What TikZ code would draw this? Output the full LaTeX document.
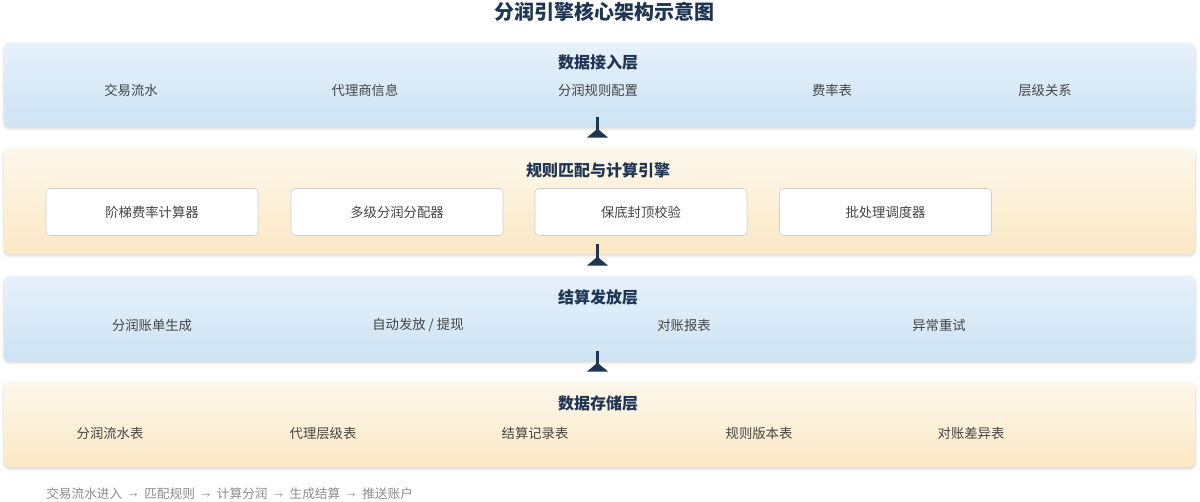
\documentclass[tikz,border=0pt]{standalone}
\usepackage{fontspec}
\setmainfont{Noto Sans CJK SC}
\usetikzlibrary{arrows.meta,shadows.blur}

\definecolor{navy}{RGB}{31,53,84}
\definecolor{itemgray}{RGB}{68,68,68}
\definecolor{footgray}{RGB}{140,140,140}
\definecolor{bluetop}{RGB}{230,241,251}
\definecolor{bluebot}{RGB}{205,227,243}
\definecolor{creamtop}{RGB}{253,248,236}
\definecolor{creambot}{RGB}{251,232,196}
\definecolor{boxline}{RGB}{200,208,214}

\newcommand{\flowsep}{\hspace{5pt}{\fontsize{6.5}{8}\selectfont →}\hspace{5pt}}

\tikzset{
  layer/.style={rounded corners=4.5pt, minimum width=893.25pt, inner sep=0pt,
    blur shadow={shadow blur steps=6, shadow opacity=18, shadow xshift=0pt, shadow yshift=-1.2pt}},
  bluelayer/.style={layer, top color=bluetop, bottom color=bluebot},
  creamlayer/.style={layer, top color=creamtop, bottom color=creambot},
  layertitle/.style={inner sep=0.75pt, text=navy, font=\fontsize{12}{14}\selectfont\bfseries},
  item/.style={inner sep=0.75pt, text=itemgray, font=\fontsize{10}{12}\selectfont},
  unit/.style={draw=boxline, fill=white, rounded corners=3pt, minimum width=159pt,
    minimum height=35.25pt, inner sep=0pt, text=itemgray, font=\fontsize{10}{12}\selectfont},
  uplink/.style={draw=navy, line width=2pt, -{Triangle[reversed, width=15.75pt, length=6.75pt]}}
}

\begin{document}
\begin{tikzpicture}[x=0.75pt,y=0.75pt,yscale=-1,xscale=1]
\useasboundingbox (0,0) rectangle (1200,501);
% title
\node[inner sep=0.75pt, text=navy, font=\fontsize{15}{18}\selectfont\bfseries] (title) at (604,12) {分润引擎核心架构示意图};
% layers
\node[bluelayer, minimum height=63pt] (ingest) at (599.5,85) {};
\node[creamlayer, minimum height=79.5pt] (engine) at (599.5,201) {};
\node[bluelayer, minimum height=63.75pt] (settle) at (599.5,318.5) {};
\node[creamlayer, minimum height=63.75pt] (store) at (599.5,424.5) {};
% data ingest layer
\node[layertitle] (ingesttitle) at (598,62) {数据接入层};
\node[item] (txflow) at (131,90) {交易流水};
\node[item] (agentinfo) at (365,90) {代理商信息};
\node[item] (rulecfg) at (598,90) {分润规则配置};
\node[item] (ratetab) at (832,90) {费率表};
\node[item] (hierarchy) at (1045,90) {层级关系};
% engine layer
\node[layertitle] (enginetitle) at (598,170) {规则匹配与计算引擎};
\node[unit] (tiered) at (152,212) {阶梯费率计算器};
\node[unit] (multilevel) at (397,212) {多级分润分配器};
\node[unit] (floorcap) at (641,212) {保底封顶校验};
\node[unit] (batch) at (885.5,212) {批处理调度器};
% settlement layer
\node[layertitle] (settletitle) at (598,297) {结算发放层};
\node[item] (bill) at (152,325) {分润账单生成};
\node[item] (payout) at (418,325) {自动发放 / 提现};
\node[item] (recon) at (684,325) {对账报表};
\node[item] (retry) at (939,325) {异常重试};
% storage layer
\node[layertitle] (storetitle) at (598,403) {数据存储层};
\node[item] (flowtab) at (110,433) {分润流水表};
\node[item] (leveltab) at (323,433) {代理层级表};
\node[item] (settletab) at (535,433) {结算记录表};
\node[item] (versiontab) at (759,433) {规则版本表};
\node[item] (difftab) at (971,433) {对账差异表};
% links between layers
\draw[uplink] ([xshift=-1.5pt,yshift=-7.5pt]ingest.south) -- ([xshift=-1.5pt,yshift=-7.5pt]engine.north);
\draw[uplink] ([xshift=-1.5pt,yshift=-7.5pt]engine.south) -- ([xshift=-1.5pt,yshift=-7.5pt]settle.north);
\draw[uplink] ([xshift=-1.5pt,yshift=-7.5pt]settle.south) -- ([xshift=-1.5pt,yshift=-7.5pt]store.north);
% footer
\node[anchor=west, inner sep=0pt, text=footgray, font=\fontsize{9.5}{11}\selectfont] (footer) at (46,494) {交易流水进入\flowsep 匹配规则\flowsep 计算分润\flowsep 生成结算\flowsep 推送账户};
\end{tikzpicture}
\end{document}
